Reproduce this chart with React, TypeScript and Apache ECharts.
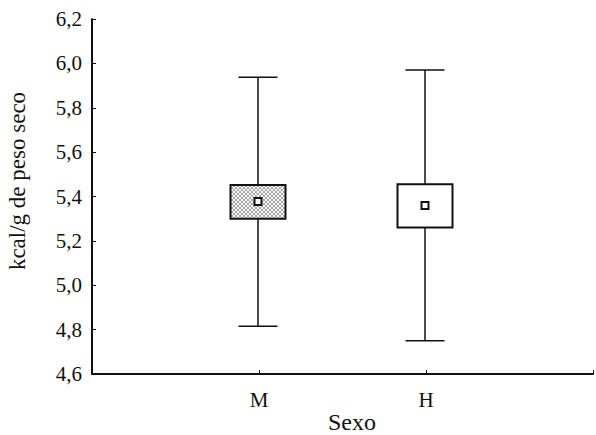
import React, { useEffect, useRef } from "react";
import * as echarts from "echarts";

const categories = ["", "M", "H", ""];
const groupIndex = [1, 2];
const mins = [4.815, 4.75];
const q1s = [5.30, 5.26];
const q3s = [5.452, 5.455];
const maxs = [5.938, 5.97];
const means = [5.378, 5.36];
const yTicks = { min: 4.6, max: 6.2, interval: 0.2 };
const xTitle = "Sexo";
const yTitle = "kcal/g de peso seco";

function makeHatch(): HTMLCanvasElement {
  const c = document.createElement("canvas");
  c.width = 4;
  c.height = 4;
  const ctx = c.getContext("2d")!;
  ctx.fillStyle = "#f6f6f6";
  ctx.fillRect(0, 0, 4, 4);
  ctx.fillStyle = "#a8a8a8";
  for (let i = 0; i < 4; i++) {
    ctx.fillRect(i, i, 1, 1);
    ctx.fillRect(3 - i, i, 1, 1);
  }
  return c;
}

export default function App() {
  const ref = useRef<HTMLDivElement>(null);
  useEffect(() => {
    if (!ref.current) return;
    const chart = echarts.init(ref.current, null, { renderer: "svg" });
    const hatch = makeHatch();
    const data = groupIndex.map((g, i) => [g, mins[i], q1s[i], q3s[i], maxs[i], means[i], i]);
    const font = "'Liberation Serif', 'Times New Roman', serif";
    chart.setOption({
      animation: false,
      grid: { left: 92, top: 19, right: -6, bottom: 61 },
      graphic: [
        {
          type: "text",
          x: 352,
          y: 422,
          style: {
            text: xTitle,
            fontFamily: font,
            fontSize: 24,
            fill: "#111",
            textAlign: "center",
            textVerticalAlign: "middle",
          },
        },
        {
          type: "text",
          x: 17,
          y: 181,
          rotation: Math.PI / 2,
          style: {
            text: yTitle,
            fontFamily: font,
            fontSize: 23,
            fill: "#111",
            textAlign: "center",
            textVerticalAlign: "middle",
          },
        },
      ],
      xAxis: {
        type: "category",
        data: categories,
        boundaryGap: false,
        axisLine: { lineStyle: { color: "#111", width: 2 } },
        axisTick: { inside: true, length: 4, lineStyle: { color: "#111" } },
        axisLabel: { fontFamily: font, fontSize: 21, color: "#111", margin: 15, interval: 0 },
        splitLine: { show: false },
      },
      yAxis: {
        type: "value",
        min: yTicks.min,
        max: yTicks.max,
        interval: yTicks.interval,
        axisLine: { show: true, lineStyle: { color: "#111", width: 2 } },
        axisTick: { show: true, inside: true, length: 4, lineStyle: { color: "#111" } },
        axisLabel: {
          fontFamily: font,
          fontSize: 21,
          color: "#111",
          margin: 10,
          formatter: (v: number) => v.toFixed(1).replace(".", ","),
        },
        splitLine: { show: false },
      },
      series: [
        {
          type: "custom",
          data,
          encode: { x: 0, y: [1, 2, 3, 4, 5] },
          renderItem: (params: any, api: any) => {
            const x = api.value(0);
            const pMin = api.coord([x, api.value(1)]);
            const pQ1 = api.coord([x, api.value(2)]);
            const pQ3 = api.coord([x, api.value(3)]);
            const pMax = api.coord([x, api.value(4)]);
            const pMean = api.coord([x, api.value(5)]);
            const idx = api.value(6);
            const cx = pMin[0] - 1;
            const boxW = 55;
            const capW = 39;
            const m = 7;
            const lineStyle = { stroke: "#111", lineWidth: 1.5 };
            const fill =
              idx === 0
                ? { image: hatch, repeat: "repeat", imageWidth: 4, imageHeight: 4 }
                : "#ffffff";
            return {
              type: "group",
              children: [
                { type: "line", shape: { x1: cx, y1: pMax[1], x2: cx, y2: pMin[1] }, style: lineStyle },
                { type: "line", shape: { x1: cx - capW / 2, y1: pMax[1], x2: cx + capW / 2, y2: pMax[1] }, style: lineStyle },
                { type: "line", shape: { x1: cx - capW / 2, y1: pMin[1], x2: cx + capW / 2, y2: pMin[1] }, style: lineStyle },
                {
                  type: "rect",
                  shape: { x: cx - boxW / 2, y: pQ3[1], width: boxW, height: pQ1[1] - pQ3[1] },
                  style: { fill, stroke: "#111", lineWidth: 2 },
                },
                {
                  type: "rect",
                  shape: { x: cx - m / 2, y: pMean[1] - m / 2, width: m, height: m },
                  style: { fill: "#ffffff", stroke: "#111", lineWidth: 2 },
                },
              ],
            };
          },
        },
      ],
    });
    return () => chart.dispose();
  }, []);
  return (
    <div
      ref={ref}
      style={{ position: "fixed", left: 0, top: 0, width: 596, height: 435, background: "#fff" }}
    />
  );
}
